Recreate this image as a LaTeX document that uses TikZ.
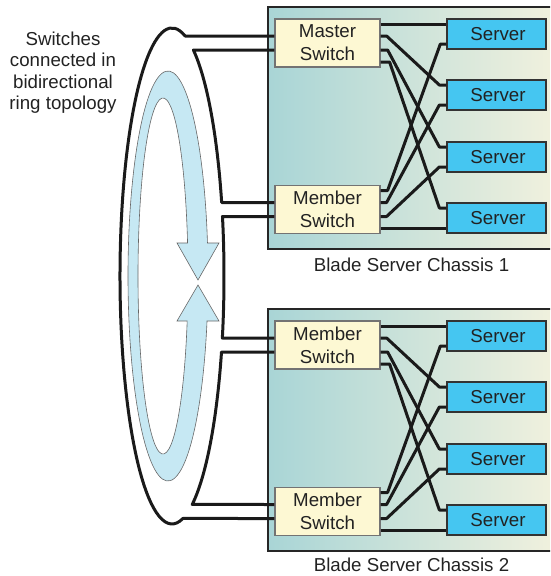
\documentclass[tikz,border=0pt]{standalone}
\usepackage{fontspec}
\setmainfont{Liberation Sans}
\usetikzlibrary{calc}
\definecolor{chasL}{HTML}{A9D5D6}
\definecolor{chasR}{HTML}{F4F2DE}
\definecolor{swfill}{HTML}{FDF8D3}
\definecolor{svfill}{HTML}{45C6F1}
\definecolor{ringblue}{HTML}{C6E8F3}
\definecolor{txt}{HTML}{222222}
\definecolor{wirec}{HTML}{1A1A1A}
\begin{document}
\begin{tikzpicture}[x=1pt,y=-1pt,
  every node/.style={text=txt, font=\fontsize{18.7}{23}\selectfont},
  chassis/.style={draw=black!85, line width=2.2pt, left color=chasL, right color=chasR,
    minimum width=300pt, minimum height=242pt, anchor=north west, inner sep=0pt},
  switchbox/.style={draw=black!55, line width=1.2pt, fill=swfill, minimum width=105pt,
    minimum height=48pt, align=center, inner sep=0pt},
  serverbox/.style={draw=black!80, line width=1.3pt, fill=svfill, minimum width=99pt,
    minimum height=30pt, inner sep=0pt},
  wire/.style={line width=3pt, draw=wirec, line join=round},
  ringarrow/.style={fill=ringblue, draw=black!60, line width=0.6pt},
]
\useasboundingbox (0,0) rectangle (550,576);
\clip (0,0) rectangle (550,576);

% chassis
\node[chassis] (ch1) at (267,6) {};
\node[chassis] (ch2) at (267,308) {};
\node (l1) at (411.5,264.5) {Blade Server Chassis 1};
\node (l2) at (411.5,565) {Blade Server Chassis 2};

% switches
\node[switchbox] (M) at (327.5,43) {Master\\Switch};
\node[switchbox] (S1) at (327.5,209.5) {Member\\Switch};
\node[switchbox] (S2) at (327.5,345) {Member\\Switch};
\node[switchbox] (S3) at (327.5,511.5) {Member\\Switch};

% servers
\node[serverbox] (A1) at (496.5,34) {\hspace*{3pt}Server};
\node[serverbox] (A2) at (496.5,95) {\hspace*{3pt}Server};
\node[serverbox] (A3) at (496.5,157) {\hspace*{3pt}Server};
\node[serverbox] (A4) at (496.5,218) {\hspace*{3pt}Server};
\node[serverbox] (B1) at (496.5,336) {\hspace*{3pt}Server};
\node[serverbox] (B2) at (496.5,397) {\hspace*{3pt}Server};
\node[serverbox] (B3) at (496.5,459) {\hspace*{3pt}Server};
\node[serverbox] (B4) at (496.5,520) {\hspace*{3pt}Server};

% caption
\node[align=center, font=\fontsize{18.7}{21.5}\selectfont] (cap) at (63,72.5)
  {Switches\\connected in\\bidirectional\\ring topology};

% blue bidirectional ring
\path[ringarrow]
  ($(168,276)+(-9.26:40 and 205)$)
  arc[start angle=-9.26, end angle=-347.32, x radius=40, y radius=205]
  -- (219,321) -- (198,285) -- (177,321)
  -- ($(163,276)+(14.64:25 and 178)$)
  arc[start angle=14.64, end angle=349.32, x radius=25, y radius=178]
  -- (177,243) -- (198,280) -- (219,243) -- cycle;

% ring cabling between switches
\draw[wire] ($(M.west)+(0,-7)$) -- ($(172,276)+(-75.41:52 and 248)$)
  arc[start angle=-75.41, end angle=-282.1, x radius=52, y radius=248]
  -- ($(S3.west)+(0,7)$);
\draw[wire] ($(M.west)+(0,7)$) -- ($(172,276)+(-65.68:52 and 248)$)
  arc[start angle=-65.68, end angle=-17.24, x radius=52, y radius=248]
  -- ($(S1.west)+(0,-7)$);
\draw[wire] ($(S1.west)+(0,7)$) -- ($(172,276)+(-13.88:52 and 248)$)
  arc[start angle=-13.88, end angle=14.48, x radius=52, y radius=248]
  -- ($(S2.west)+(0,-7)$);
\draw[wire] ($(S2.west)+(0,7)$) -- ($(172,276)+(17.85:52 and 248)$)
  arc[start angle=17.85, end angle=67.1, x radius=52, y radius=248]
  -- ($(S3.west)+(0,-7)$);

% switch to server wiring
\foreach \m/\s/\a/\b/\c/\d in {M/S1/A1/A2/A3/A4, S2/S3/B1/B2/B3/B4} {
  \draw[wire] ($(\m.east)+(0,-19)$) coordinate (p) -- (p -| \a.west);
  \draw[wire] ($(\m.east)+(0,-7)$) -- ++(6,0) -- ($(\b.west)+(-7,-10)$) -- ($(\b.west)+(0,-10)$);
  \draw[wire] ($(\m.east)+(0,7)$) -- ++(7,0) -- ($(\c.west)+(-7,-10)$) -- ($(\c.west)+(0,-10)$);
  \draw[wire] ($(\m.east)+(0,19)$) -- ++(9,0) -- ($(\d.west)+(-7,-10)$) -- ($(\d.west)+(0,-10)$);
  \draw[wire] ($(\s.east)+(0,-19)$) -- ++(7,0) -- ($(\a.west)+(-6,10)$) -- ($(\a.west)+(0,10)$);
  \draw[wire] ($(\s.east)+(0,-7)$) -- ++(6,0) -- ($(\b.west)+(-7,10)$) -- ($(\b.west)+(0,10)$);
  \draw[wire] ($(\s.east)+(0,7)$) -- ++(6,0) -- ($(\c.west)+(-7,10)$) -- ($(\c.west)+(0,10)$);
  \draw[wire] ($(\s.east)+(0,19)$) coordinate (q) -- (q -| \d.west);
}
\end{tikzpicture}
\end{document}
